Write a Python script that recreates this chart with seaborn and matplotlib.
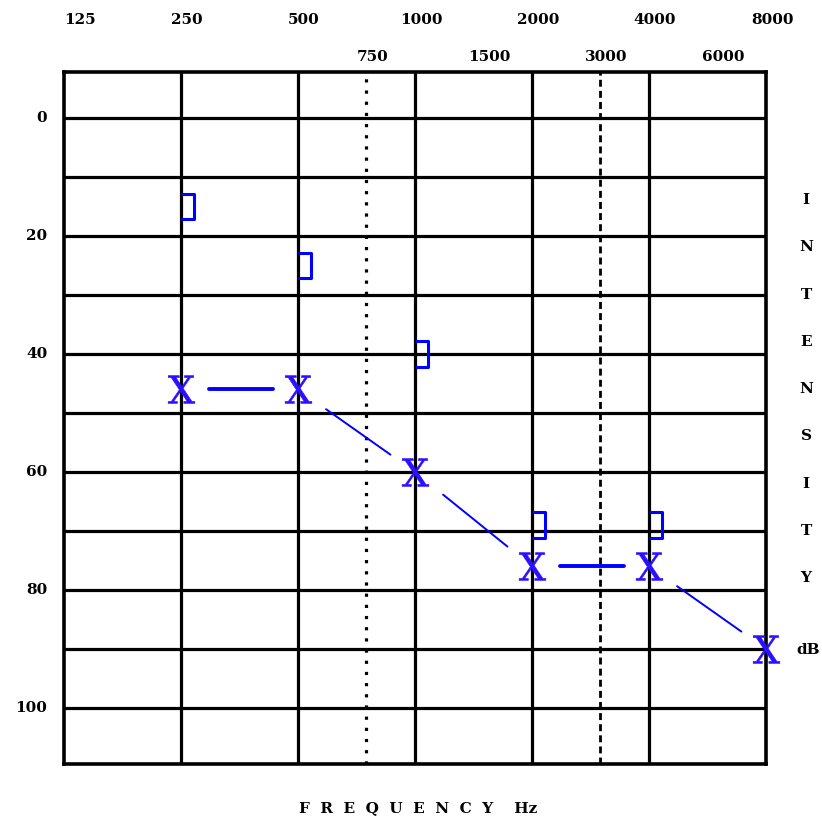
import numpy as np
import matplotlib
matplotlib.use('Agg')
import matplotlib.pyplot as plt
import seaborn as sns
from matplotlib.transforms import blended_transform_factory, ScaledTranslation

# audiogram values
freqs = [250, 500, 1000, 2000, 4000, 8000]
air_db = [46, 46, 60, 76, 76, 90]
bone_freqs = [250, 500, 1000, 2000, 4000]
bone_db = [15, 25, 40, 69, 69]

top_ticks = [125, 250, 500, 1000, 2000, 4000, 8000]
mid_ticks = [750, 1500, 3000, 6000]
db_ticks = [0, 20, 40, 60, 80, 100]
side_letters = list('INTENSITY')

sns.set_style('white')
plt.rcParams['font.family'] = ['DejaVu Serif']
plt.rcParams['mathtext.fontset'] = 'dejavuserif'

fig = plt.figure(figsize=(8.22, 8.23), dpi=100)
ax = fig.add_axes([64/822, 1 - 764/823, 702/822, 692/823])
ax.set_xscale('log', base=2)
ax.set_xlim(125, 8000)
ax.set_ylim(109.5, -7.8)
ax.set_xticks([])
ax.set_xticks([], minor=True)
ax.set_yticks([])
for s in ax.spines.values():
    s.set_linewidth(2.6)
    s.set_color('black')

# grid
for d in range(0, 101, 10):
    ax.axhline(d, color='black', lw=2.3, zorder=1)
for f in [250, 500, 1000, 2000, 4000]:
    ax.axvline(f, color='black', lw=2.3, zorder=1)
ax.axvline(750, color='black', lw=2.3, ls=(0, (1, 2.5)), zorder=1)
ax.axvline(3000, color='black', lw=2.0, ls=(0, (2.5, 1.5)), zorder=1)

# connecting lines, with gaps at the markers
for i in range(len(freqs) - 1):
    f0, f1 = freqs[i], freqs[i + 1]
    d0, d1 = air_db[i], air_db[i + 1]
    t = np.array([0.24, 0.79])
    xs = f0 * (f1 / f0) ** t
    ys = d0 + (d1 - d0) * t
    flat = abs(d1 - d0) < 3
    sns.lineplot(x=xs, y=ys, color='#0000ff', lw=2.8 if flat else 1.4,
                 sort=False, ax=ax, zorder=3)

sns.scatterplot(x=freqs, y=air_db, marker=r'$\mathrm{X}$', s=400,
                color='#2a10ff', edgecolor='#2a10ff', linewidth=0.4,
                ax=ax, zorder=4, legend=False, clip_on=False)

bracket = [(0, 1), (1, 1), (1, -1), (0, -1)]
sns.scatterplot(x=bone_freqs, y=bone_db, marker=bracket, s=340,
                facecolor='none', edgecolor='#0000ff', linewidth=2.2,
                ax=ax, zorder=4, legend=False)

# labels
tf = dict(fontsize=11, fontweight='bold', color='black')
ytrans = blended_transform_factory(ax.transAxes, ax.transData)
for d in db_ticks:
    ax.text(-0.024, d, str(d), transform=ytrans, ha='right', va='center', **tf)

shift = ScaledTranslation(6 / 100, 0, fig.dpi_scale_trans)
xtrans = blended_transform_factory(ax.transData, ax.transAxes)
for f in top_ticks:
    if f == top_ticks[0]:
        ax.text(f, 1.075, str(f), transform=xtrans, ha='left', va='center', **tf)
    else:
        ax.text(f, 1.075, str(f), transform=xtrans + shift, ha='center', va='center', **tf)
for f in mid_ticks:
    ax.text(f, 1.022, str(f), transform=xtrans + shift, ha='center', va='center', **tf)

for i, ch in enumerate(side_letters):
    fig.text(806 / 822, 1 - (200 + 47.3 * i) / 823, ch, ha='center', va='center', **tf)
fig.text(808 / 822, 1 - 650 / 823, 'dB', ha='center', va='center', **tf)

fig.text(418 / 822, 1 - 808 / 823, 'F  R  E  Q  U  E  N  C  Y    Hz',
         ha='center', va='center', **tf)

fig.savefig('out.png', dpi=100)
